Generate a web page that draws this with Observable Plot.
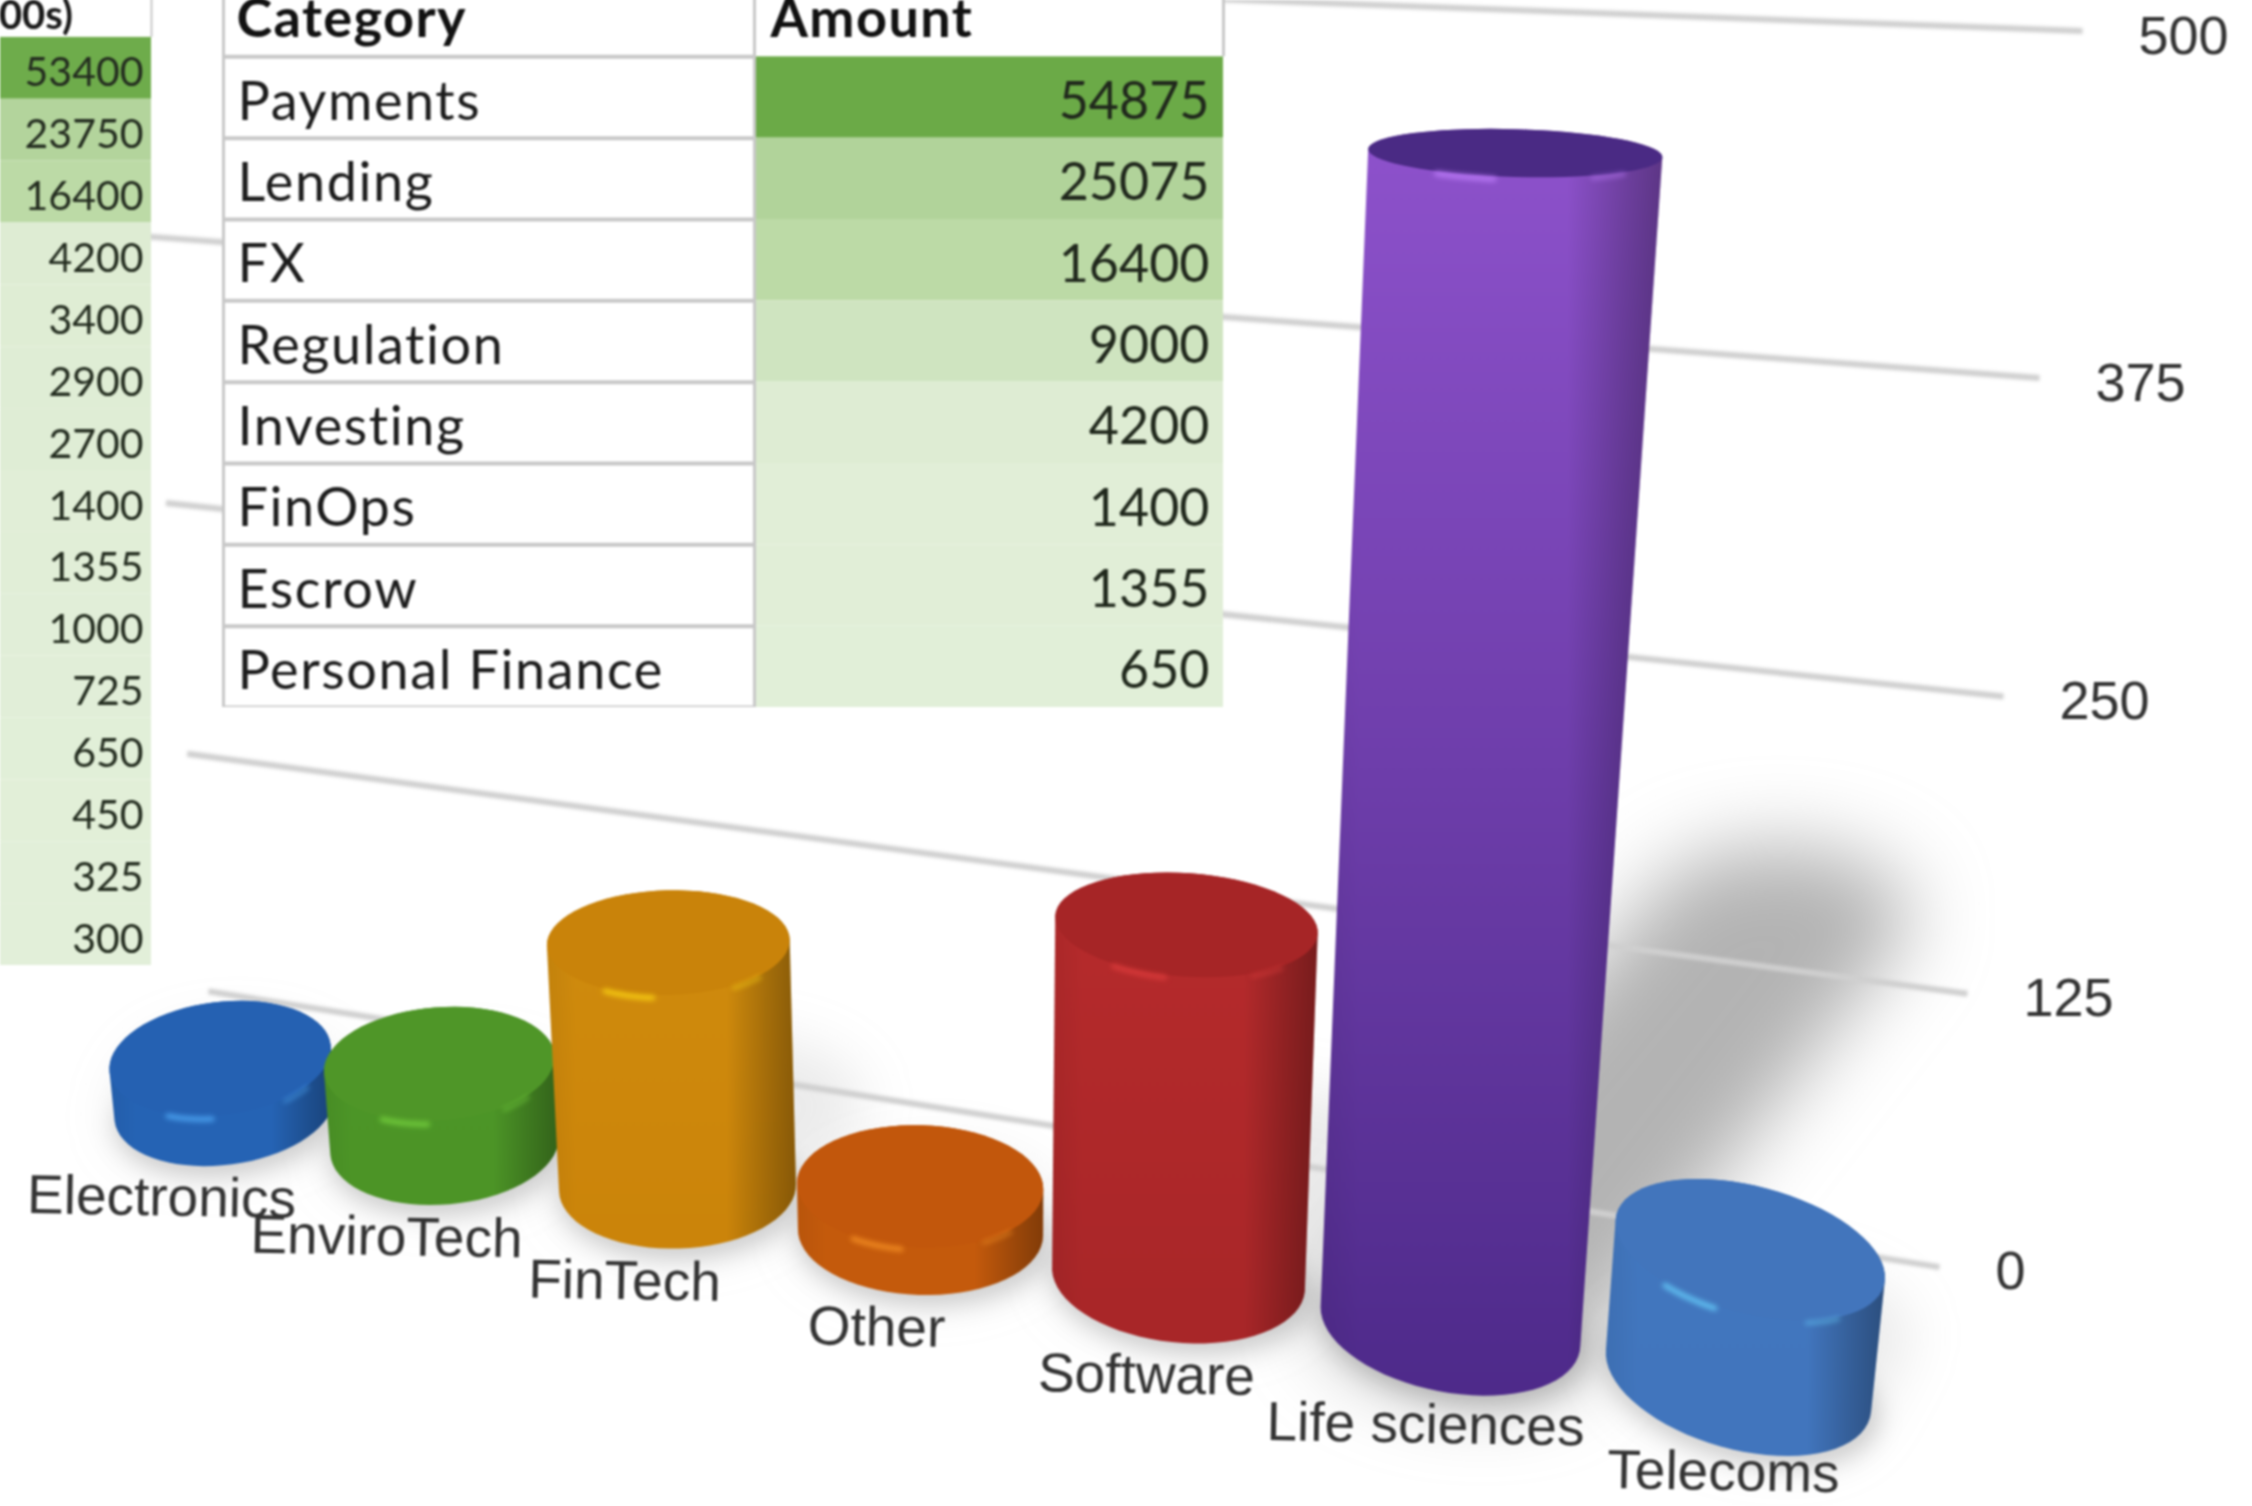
<!DOCTYPE html>
<html><head><meta charset="utf-8">
<script src="https://cdn.jsdelivr.net/npm/d3@7"></script>
<script src="https://cdn.jsdelivr.net/npm/@observablehq/plot@0.6"></script>
<style>
html,body{margin:0;padding:0;background:#fff;width:2252px;height:1506px;overflow:hidden}
#stage{position:relative;width:2252px;height:1506px;overflow:hidden}
#stage svg{position:absolute;display:block;filter:blur(1.2px);overflow:hidden}
.wide text{letter-spacing:1.6px}
.wideHead text{letter-spacing:1.4px}
</style></head><body><div id="stage"></div>
<script>
// ---- chart data ----
const categories = ["Electronics","EnviroTech","FinTech","Other","Software","Life sciences","Telecoms"];
const values = [22,37,110,21,159,483,60];
const axisTicks = [0,125,250,375,500];
// ---- left table ----
const leftAmounts = [53400,23750,16400,4200,3400,2900,2700,1400,1355,1000,725,650,450,325,300];
// ---- middle table ----
const tableCategories = ["Payments","Lending","FX","Regulation","Investing","FinOps","Escrow","Personal Finance"];
const tableAmounts = [54875,25075,16400,9000,4200,1400,1355,650];

// ---- scene layout (projection of the 3-D floor), separate from the data ----
const axisPixels = [1271,998,701,383,36];
const floorLevel = [75.5,58,38.5,18,-3,-25,-50];
const floorX = [224,444,677,920,1178,1450,1738];
const labelX = [161,386,624,876,1146,1425,1723];
const gridRightX = [1939,1967,2003,2039,2082];
const bodyTop = ["#2563b4","#4c9628","#d08c0e","#c45a0c","#b72b2c","#8e52cc","#4277bf"];
const bodyBottom = ["#2563b4","#4c9426","#cb840a","#c45a0c","#a82628","#4e2a8a","#4175bd"];
const capColor = ["#2561b2","#4f9628","#c9830a","#c2570c","#a62526","#4a2a84","#4275bc"];
const streakColor = ["#4aa0ee","#72cc3c","#f6cc12","#f08a22","#d83a3a","#b878f4","#62c4f4"];
const paletteGreen = ["#e2efd9","#deecd3","#cfe4c0","#bcdaa6","#b1d39a","#6baa47"];
const greenStops = [0,4200,9000,16400,25075,54875];

const W = 2252, H = 1506;
const yPx = d3.scaleLinear().domain(axisTicks).range(axisPixels);
const ryAt = y => 22 + 0.036 * (y - 100);
const tiltAt = (x, y) => (x - 800) * 0.014 * Math.min(1.2, Math.pow(ryAt(y) / 60, 2));
function ellipse(cx, cy, rx, ry, tilt, t0 = 0, t1 = 360, n = 72) {
  const a = tilt * Math.PI / 180, pts = [];
  for (let i = 0; i <= n; i++) {
    const t = (t0 + (t1 - t0) * i / n) * Math.PI / 180;
    const ex = rx * Math.cos(t), ey = ry * Math.sin(t);
    pts.push([cx + ex * Math.cos(a) - ey * Math.sin(a), cy + ex * Math.sin(a) + ey * Math.cos(a)]);
  }
  return pts;
}
const toData = pts => pts.map(([x, y]) => ({x, y: yPx.invert(y)}));

const cylinders = categories.map((name, i) => {
  const baseY = yPx(floorLevel[i]), topY = yPx(floorLevel[i] + values[i]);
  const h = baseY - topY, bx = floorX[i], tx = bx + 0.00012 * (bx - 990) * h;
  const rb = 107 + 0.017 * bx, rt = rb * (1 + 0.0001 * h);
  const bottom = ellipse(bx, baseY, rb, ryAt(baseY), tiltAt(bx, baseY));
  const top = ellipse(tx, topY, rt, ryAt(topY), tiltAt(tx, topY));
  const shadowTip = ellipse(bx + 0.28 * h, baseY - 0.35 * h, rb, ryAt(baseY) * 1.05, 0);
  return {
    i, name, baseY,
    body: toData(d3.polygonHull([...bottom, ...top])),
    cap: toData(top),
    shadow: toData(d3.polygonHull([...bottom, ...shadowTip])),
    foot: toData(ellipse(bx + 4, baseY + 9, rb * 1.03, ryAt(baseY) * 1.03, tiltAt(bx, baseY))),
    arcA: toData(ellipse(tx, topY, rt, ryAt(topY) + 3, tiltAt(tx, topY), 98, 122, 14)),
    arcB: toData(ellipse(tx, topY, rt, ryAt(topY) + 3, tiltAt(tx, topY), 42, 58, 10))
  };
});

function gradients() {
  const defs = d3.create("svg:defs");
  categories.forEach((_, i) => {
    const g = defs.append("linearGradient").attr("id", "body" + i).attr("x1", 0).attr("x2", 0).attr("y1", 0).attr("y2", 1);
    g.append("stop").attr("offset", 0).attr("stop-color", bodyTop[i]);
    g.append("stop").attr("offset", 1).attr("stop-color", bodyBottom[i]);
  });
  const s = defs.append("linearGradient").attr("id", "shade").attr("x1", 0).attr("x2", 1).attr("y1", 0).attr("y2", 0);
  [[0, 0.06], [0.12, 0], [0.72, 0], [0.88, 0.2], [1, 0.34]].forEach(([o, a]) =>
    s.append("stop").attr("offset", o).attr("stop-color", "#000").attr("stop-opacity", a));
  return defs.node();
}

const grid = axisTicks.map((v, i) => ({
  v, x1: 208 - 0.17 * v, y1: 128 + 0.8 * v, x2: gridRightX[i], y2: v + 2
}));

const solid = (data, o) => Plot.line(data, {x: "x", y: "y", curve: "linear-closed", stroke: "none", ...o});
const main = Plot.plot({
  width: W, height: H, margin: 0,
  style: {background: "#fff"},
  x: {type: "linear", domain: [0, W], range: [0, W], axis: null},
  y: {type: "linear", domain: axisTicks, range: axisPixels, axis: null},
  marks: [
    gradients,
    ...cylinders.map(c => solid(c.shadow, {fill: "#8f8f8f", fillOpacity: c.i === 5 ? 0.68 : 0.18, imageFilter: c.i === 5 ? "blur(40px)" : "blur(26px)"})),
    Plot.link(grid, {x1: "x1", y1: "y1", x2: "x2", y2: "y2", stroke: "#cfcfcf", strokeWidth: 6, imageFilter: "blur(1.5px)"}),
    Plot.text(grid, {x: d => d.x2 + 56, y: "v", text: d => String(d.v), textAnchor: "start", fontFamily: "Liberation Sans", fontSize: 54, fill: "#333"}),
    ...cylinders.flatMap(c => [
      solid(c.foot, {fill: "#000", fillOpacity: 0.16, imageFilter: "blur(12px)"}),
      solid(c.body, {fill: `url(#body${c.i})`}),
      solid(c.body, {fill: "url(#shade)"}),
      solid(c.cap, {fill: capColor[c.i]}),
      Plot.line(c.arcA, {x: "x", y: "y", stroke: streakColor[c.i], strokeWidth: 5, imageFilter: "blur(2.5px)"}),
      Plot.line(c.arcB, {x: "x", y: "y", stroke: streakColor[c.i], strokeWidth: 4, strokeOpacity: .6, imageFilter: "blur(2.5px)"})
    ]),
    Plot.text(cylinders, {
      x: c => labelX[c.i],
      y: c => yPx.invert(Math.min(1472, c.baseY + ryAt(c.baseY) + 33)),
      text: "name", rotate: 1, fontFamily: "Liberation Sans", fontSize: 55, fill: "#333"
    })
  ]
});
main.style.left = "0"; main.style.top = "0";

const colorScale = {type: "linear", domain: greenStops, range: paletteGreen};

// left (cropped) table
const leftRows = leftAmounts.map((v, i) => ({v, r: i + 1}));
const leftTable = Plot.plot({
  width: 154, height: 990, margin: 0,
  style: {background: "transparent"},
  x: {type: "linear", domain: [0, 1], range: [0, 151], axis: null},
  y: {type: "linear", domain: [0, 16], range: [0, 990], axis: null},
  color: colorScale,
  marks: [
    Plot.rect([{}], {x1: 0, x2: 1, y1: 0, y2: 1, fill: "#fff"}),
    Plot.ruleX([1], {y1: 0, y2: 1, stroke: "#c8c8c8", strokeWidth: 2}),
    Plot.text(["00s)"], {x: 0.48, y: 0.66, text: d => d, fontFamily: "Lato", fontWeight: 700, fontSize: 40, textAnchor: "end", fill: "#1a1a1a"}),
    Plot.rect(leftRows, {x1: 0, x2: 1, y1: "r", y2: d => d.r + 1, fill: "v"}),
    Plot.text(leftRows, {x: 1, dx: -8, dy: 5, y: d => d.r + 0.5, text: d => String(d.v), textAnchor: "end", fontFamily: "Lato", fontSize: 41, fill: "#232c1f"})
  ]
});
leftTable.style.left = "0"; leftTable.style.top = "-25px";

// middle table
const midRows = tableCategories.map((c, i) => ({c, v: tableAmounts[i], r: i + 1}));
const midTable = Plot.plot({
  width: 1006, height: 732, margin: 0, marginBottom: 0,
  style: {background: "transparent"},
  x: {type: "linear", domain: [0, 1, 2], range: [3, 534, 1003], axis: null},
  y: {type: "linear", domain: [0, 9], range: [0, 732], axis: null},
  color: colorScale,
  marks: [
    Plot.rect([{}], {x1: 0, x2: 2, y1: 0, y2: 9, fill: "#fff"}),
    Plot.rect(midRows, {x1: 1, x2: 2, y1: "r", y2: d => d.r + 1, fill: "v"}),
    Plot.ruleY(d3.range(1, 10), {x1: 0, x2: 1, stroke: "#c8c8c8", strokeWidth: 4}),
    Plot.ruleX([0, 1], {y1: 0, y2: 9, stroke: "#c8c8c8", strokeWidth: 3}),
    Plot.ruleX([2], {y1: 0, y2: 1, stroke: "#c8c8c8", strokeWidth: 3}),
    Plot.text(["Category"], {x: 0, dx: 13, dy: 4, y: 0.5, text: d => d, textAnchor: "start", fontFamily: "Lato", fontWeight: 700, fontSize: 54, fill: "#111", className: "wideHead"}),
    Plot.text(["Amount"], {x: 1, dx: 16, dy: 4, y: 0.5, text: d => d, textAnchor: "start", fontFamily: "Lato", fontWeight: 700, fontSize: 54, fill: "#111", className: "wideHead"}),
    Plot.text(midRows, {x: 0, dx: 14, dy: 5, y: d => d.r + 0.5, text: "c", textAnchor: "start", fontFamily: "Lato", fontSize: 54, fill: "#1c1c1c", className: "wide"}),
    Plot.text(midRows, {x: 2, dx: -14, dy: 5, y: d => d.r + 0.5, text: d => String(d.v), textAnchor: "end", fontFamily: "Lato", fontSize: 52, fill: "#20281c"})
  ]
});
midTable.style.left = "220px"; midTable.style.top = "-25px";

const stage = document.getElementById("stage");
stage.append(main, leftTable, midTable);
</script></body></html>
